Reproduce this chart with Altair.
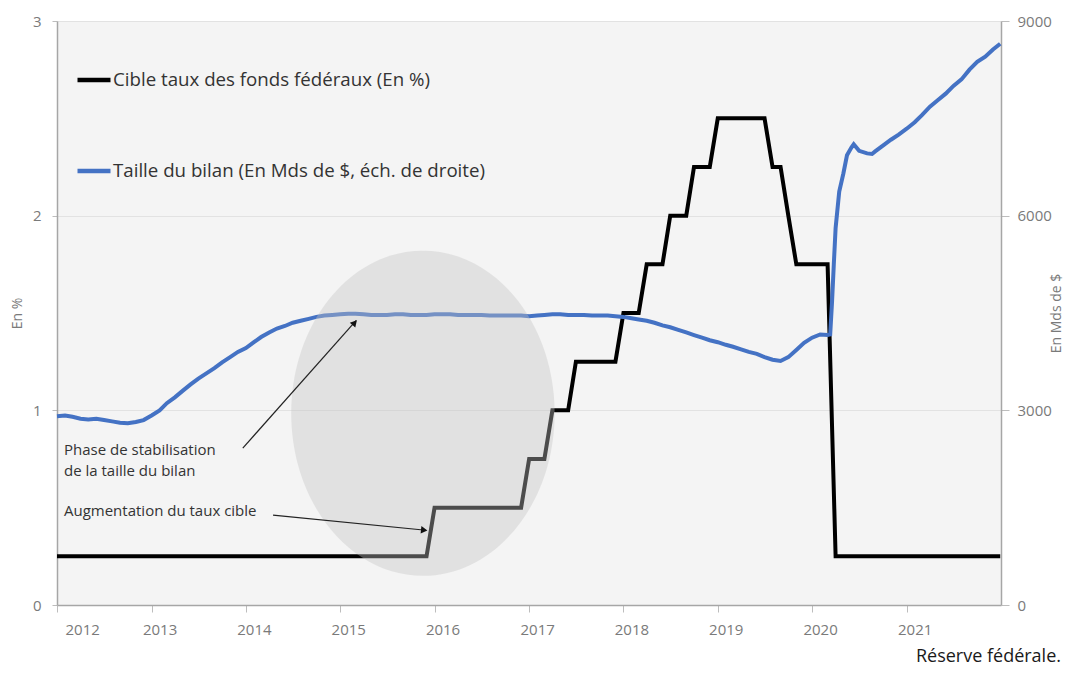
import altair as alt
import pandas as pd

# ---------------- data ----------------
SERIES = ["Cible taux des fonds fédéraux (En %)",
          "Taille du bilan (En Mds de $, éch. de droite)"]
COLORS = ["#000000", "#4472C4"]

# Fed funds target rate (upper bound, %), value on the 1st of each month
rate_2012 = [0.25, 0.25, 0.25, 0.25, 0.25, 0.25, 0.25, 0.25, 0.25, 0.25, 0.25, 0.25]
rate_2013 = [0.25, 0.25, 0.25, 0.25, 0.25, 0.25, 0.25, 0.25, 0.25, 0.25, 0.25, 0.25]
rate_2014 = [0.25, 0.25, 0.25, 0.25, 0.25, 0.25, 0.25, 0.25, 0.25, 0.25, 0.25, 0.25]
rate_2015 = [0.25, 0.25, 0.25, 0.25, 0.25, 0.25, 0.25, 0.25, 0.25, 0.25, 0.25, 0.25]
rate_2016 = [0.5, 0.5, 0.5, 0.5, 0.5, 0.5, 0.5, 0.5, 0.5, 0.5, 0.5, 0.5]
rate_2017 = [0.75, 0.75, 0.75, 1.0, 1.0, 1.0, 1.25, 1.25, 1.25, 1.25, 1.25, 1.25]
rate_2018 = [1.5, 1.5, 1.5, 1.75, 1.75, 1.75, 2.0, 2.0, 2.0, 2.25, 2.25, 2.25]
rate_2019 = [2.5, 2.5, 2.5, 2.5, 2.5, 2.5, 2.5, 2.25, 2.25, 2.0, 1.75, 1.75]
rate_2020 = [1.75, 1.75, 1.75, 0.25, 0.25, 0.25, 0.25, 0.25, 0.25, 0.25, 0.25, 0.25]
rate_2021 = [0.25, 0.25, 0.25, 0.25, 0.25, 0.25, 0.25, 0.25, 0.25, 0.25, 0.25, 0.25]
rate_years = [2012, 2013, 2014, 2015, 2016, 2017, 2018, 2019, 2020, 2021]
rate_values = [rate_2012, rate_2013, rate_2014, rate_2015, rate_2016,
               rate_2017, rate_2018, rate_2019, rate_2020, rate_2021]
rate_last_date = "2021-12-29"
rate_last_value = 0.25

# Fed balance sheet (total assets, billions of $)
bs_dates = [
    "2012-01-01", "2012-02-01", "2012-03-01", "2012-04-01", "2012-05-01", "2012-06-01",
    "2012-07-01", "2012-08-01", "2012-09-01", "2012-10-01", "2012-11-01", "2012-12-01",
    "2013-01-01", "2013-02-01", "2013-03-01", "2013-04-01", "2013-05-01", "2013-06-01",
    "2013-07-01", "2013-08-01", "2013-09-01", "2013-10-01", "2013-11-01", "2013-12-01",
    "2014-01-01", "2014-02-01", "2014-03-01", "2014-04-01", "2014-05-01", "2014-06-01",
    "2014-07-01", "2014-08-01", "2014-09-01", "2014-10-01", "2014-11-01", "2014-12-01",
    "2015-01-01", "2015-02-01", "2015-03-01", "2015-04-01", "2015-05-01", "2015-06-01",
    "2015-07-01", "2015-08-01", "2015-09-01", "2015-10-01", "2015-11-01", "2015-12-01",
    "2016-01-01", "2016-02-01", "2016-03-01", "2016-04-01", "2016-05-01", "2016-06-01",
    "2016-07-01", "2016-08-01", "2016-09-01", "2016-10-01", "2016-11-01", "2016-12-01",
    "2017-01-01", "2017-02-01", "2017-03-01", "2017-04-01", "2017-05-01", "2017-06-01",
    "2017-07-01", "2017-08-01", "2017-09-01", "2017-10-01", "2017-11-01", "2017-12-01",
    "2018-01-01", "2018-02-01", "2018-03-01", "2018-04-01", "2018-05-01", "2018-06-01",
    "2018-07-01", "2018-08-01", "2018-09-01", "2018-10-01", "2018-11-01", "2018-12-01",
    "2019-01-01", "2019-02-01", "2019-03-01", "2019-04-01", "2019-05-01", "2019-06-01",
    "2019-07-01", "2019-08-01", "2019-09-01", "2019-10-01", "2019-11-01", "2019-12-01",
    "2020-01-01", "2020-02-01", "2020-03-01", "2020-03-11", "2020-03-18", "2020-03-25",
    "2020-04-01", "2020-04-15", "2020-05-01", "2020-05-15", "2020-06-01", "2020-06-10",
    "2020-07-01", "2020-08-01", "2020-08-20", "2020-09-01", "2020-10-01", "2020-11-01",
    "2020-12-01", "2021-01-01", "2021-02-01", "2021-03-01", "2021-04-01", "2021-05-01",
    "2021-06-01", "2021-07-01", "2021-08-01", "2021-09-01", "2021-10-01", "2021-11-01",
    "2021-12-01", "2021-12-29",
]
bs_values = [
    2910, 2920, 2900, 2870, 2860, 2870, 2850, 2830, 2810, 2800, 2820, 2850,
    2920, 3000, 3110, 3200, 3300, 3400, 3490, 3570, 3650, 3740, 3820, 3900,
    3960, 4050, 4130, 4200, 4260, 4300, 4350, 4380, 4410, 4440, 4460, 4470,
    4480, 4490, 4490, 4480, 4470, 4470, 4470, 4480, 4480, 4470, 4470, 4470,
    4480, 4480, 4480, 4470, 4470, 4470, 4470, 4460, 4460, 4460, 4460, 4460,
    4450, 4460, 4470, 4480, 4480, 4470, 4470, 4470, 4460, 4460, 4460, 4450,
    4440, 4420, 4400, 4380, 4350, 4310, 4280, 4240, 4200, 4160, 4120, 4080,
    4050, 4010, 3980, 3940, 3900, 3870, 3820, 3780, 3760, 3820, 3930, 4040,
    4120, 4170, 4160, 4170, 4660, 5250,
    5810, 6370, 6650, 6930, 7050, 7100,
    7000, 6960, 6950, 6990, 7080, 7170,
    7250, 7340, 7440, 7550, 7680, 7780,
    7880, 8000, 8100, 8250, 8370, 8450,
    8560, 8650,
]

# annotations (data coordinates: date, % on left axis)
ellipse_date = ["2015-11-17"]
ellipse_pct = [0.985]

arrow_start_date = ["2013-12-20", "2014-04-16"]
arrow_start_pct = [0.806, 0.462]
arrow_end_date = ["2015-03-04", "2015-11-28"]
arrow_end_pct = [1.462, 0.384]
head_date = ["2015-02-26", "2015-11-22"]
head_pct = [1.450, 0.385]
head_angle = [42, 96]

note_text = ["Phase de stabilisation", "de la taille du bilan", "Augmentation du taux cible"]
note_date = ["2012-01-28", "2012-01-28", "2012-01-28"]
note_pct = [0.768, 0.665, 0.457]

SOURCE = "Réserve fédérale."

# ---------------- tables ----------------
def ts(d):
    return d + "T00:00:00"

rate_rows = []
for yr, vals in zip(rate_years, rate_values):
    for m, v in enumerate(vals):
        rate_rows.append({"date": ts(f"{yr}-{m + 1:02d}-01"), "val": v, "serie": SERIES[0]})
rate_rows.append({"date": ts(rate_last_date), "val": rate_last_value, "serie": SERIES[0]})
rate_df = pd.DataFrame(rate_rows)

bs_df = pd.DataFrame({"date": [ts(d) for d in bs_dates], "val": bs_values, "serie": SERIES[1]})
ell_df = pd.DataFrame({"date": [ts(d) for d in ellipse_date], "val": ellipse_pct})
arr_df = pd.DataFrame({"date": [ts(d) for d in arrow_start_date], "val": arrow_start_pct,
                       "date2": [ts(d) for d in arrow_end_date], "val2": arrow_end_pct})
head_df = pd.DataFrame({"date": [ts(d) for d in head_date], "val": head_pct, "angle": head_angle})
note_df = pd.DataFrame({"date": [ts(d) for d in note_date], "val": note_pct, "txt": note_text})

# ---------------- encodings ----------------
FONT = "Open Sans"
LABEL_COLOR = "#7a7a7a"

x_scale = alt.Scale(domain=[alt.DateTime(year=2012, month=1, date=1),
                            alt.DateTime(year=2022, month=1, date=1)], nice=False)
x_axis = alt.Axis(format="%Y", title=None,
                  values=[alt.DateTime(year=y, month=1, date=1) for y in range(2012, 2022)],
                  labelOffset=8, tickSize=7, labelPadding=10, grid=False)
X = alt.X("date:T", scale=x_scale, axis=x_axis)

pct_scale = alt.Scale(domain=[0, 3], nice=False)
bil_scale = alt.Scale(domain=[0, 9000], nice=False)

color = alt.Color(
    "serie:N",
    scale=alt.Scale(domain=SERIES, range=COLORS),
    legend=alt.Legend(title=None, orient="none", legendX=18, legendY=40,
                      symbolType="stroke", symbolSize=1089, symbolStrokeWidth=4.5,
                      labelFontSize=18.7, labelFont=FONT, labelColor="#333333",
                      labelOffset=0, rowPadding=62, padding=0, symbolOffset=0,
                      labelLimit=700),
)

rate_line = alt.Chart(rate_df).mark_line(strokeWidth=4).encode(
    x=X,
    y=alt.Y("val:Q", scale=pct_scale,
            axis=alt.Axis(orient="left", title="En %", values=[0, 1, 2, 3], grid=True,
                          tickSize=5, labelPadding=11, titleX=-40, titleBaseline="middle",
                          titleAngle=270)),
    color=color,
)

bs_line = alt.Chart(bs_df).mark_line(strokeWidth=4).encode(
    x=X,
    y=alt.Y("val:Q", scale=bil_scale,
            axis=alt.Axis(orient="right", title="En Mds de $", values=[0, 3000, 6000, 9000],
                          format="d", grid=False, tickSize=8, labelPadding=8, titleX=55,
                          titleBaseline="middle", titleAngle=270)),
    color=color,
)

ELLIPSE = "M -1 0 A 1 1.2346 0 1 0 1 0 A 1 1.2346 0 1 0 -1 0 Z"
ellipse = alt.Chart(ell_df).mark_point(shape=ELLIPSE, size=69380, filled=True,
                                       color="#c4c4c4", opacity=0.39, strokeWidth=0).encode(
    x=X, y=alt.Y("val:Q", scale=pct_scale, axis=None))

arrows = alt.Chart(arr_df).mark_rule(color="#222222", strokeWidth=1.2).encode(
    x=X, y=alt.Y("val:Q", scale=pct_scale, axis=None),
    x2="date2:T", y2="val2:Q")

heads = alt.Chart(head_df).mark_point(shape="triangle-up", filled=True, size=55,
                                      color="#111111", opacity=1).encode(
    x=X, y=alt.Y("val:Q", scale=pct_scale, axis=None),
    angle=alt.Angle("angle:Q", scale=None))

notes = alt.Chart(note_df).mark_text(align="left", baseline="alphabetic", font=FONT,
                                     fontSize=15, color="#333333").encode(
    x=X, y=alt.Y("val:Q", scale=pct_scale, axis=None), text="txt:N")

chart = alt.layer(rate_line, bs_line, ellipse, arrows, heads, notes).resolve_scale(
    y="independent"
).properties(
    width=944, height=584,
    background="white",
    padding={"left": 2, "top": 6, "right": 0, "bottom": 0},
    title=alt.TitleParams(SOURCE, orient="bottom", anchor="end", frame="bounds",
                          font=FONT, fontSize=18, fontWeight="normal",
                          color="#1a1a1a", offset=11, dx=-2),
).configure_view(
    fill="#f4f4f4", strokeWidth=0
).configure_axis(
    labelFont=FONT, labelFontSize=15, labelColor=LABEL_COLOR,
    titleFont=FONT, titleFontSize=14, titleColor=LABEL_COLOR, titleFontWeight="normal",
    domainColor="#a6a6a6", domainWidth=1.5, tickColor="#bdbdbd", tickWidth=1,
    gridColor="#e2e2e2", gridWidth=1,
)

chart.save("out.html", embed_options={"renderer": "svg", "actions": False})
